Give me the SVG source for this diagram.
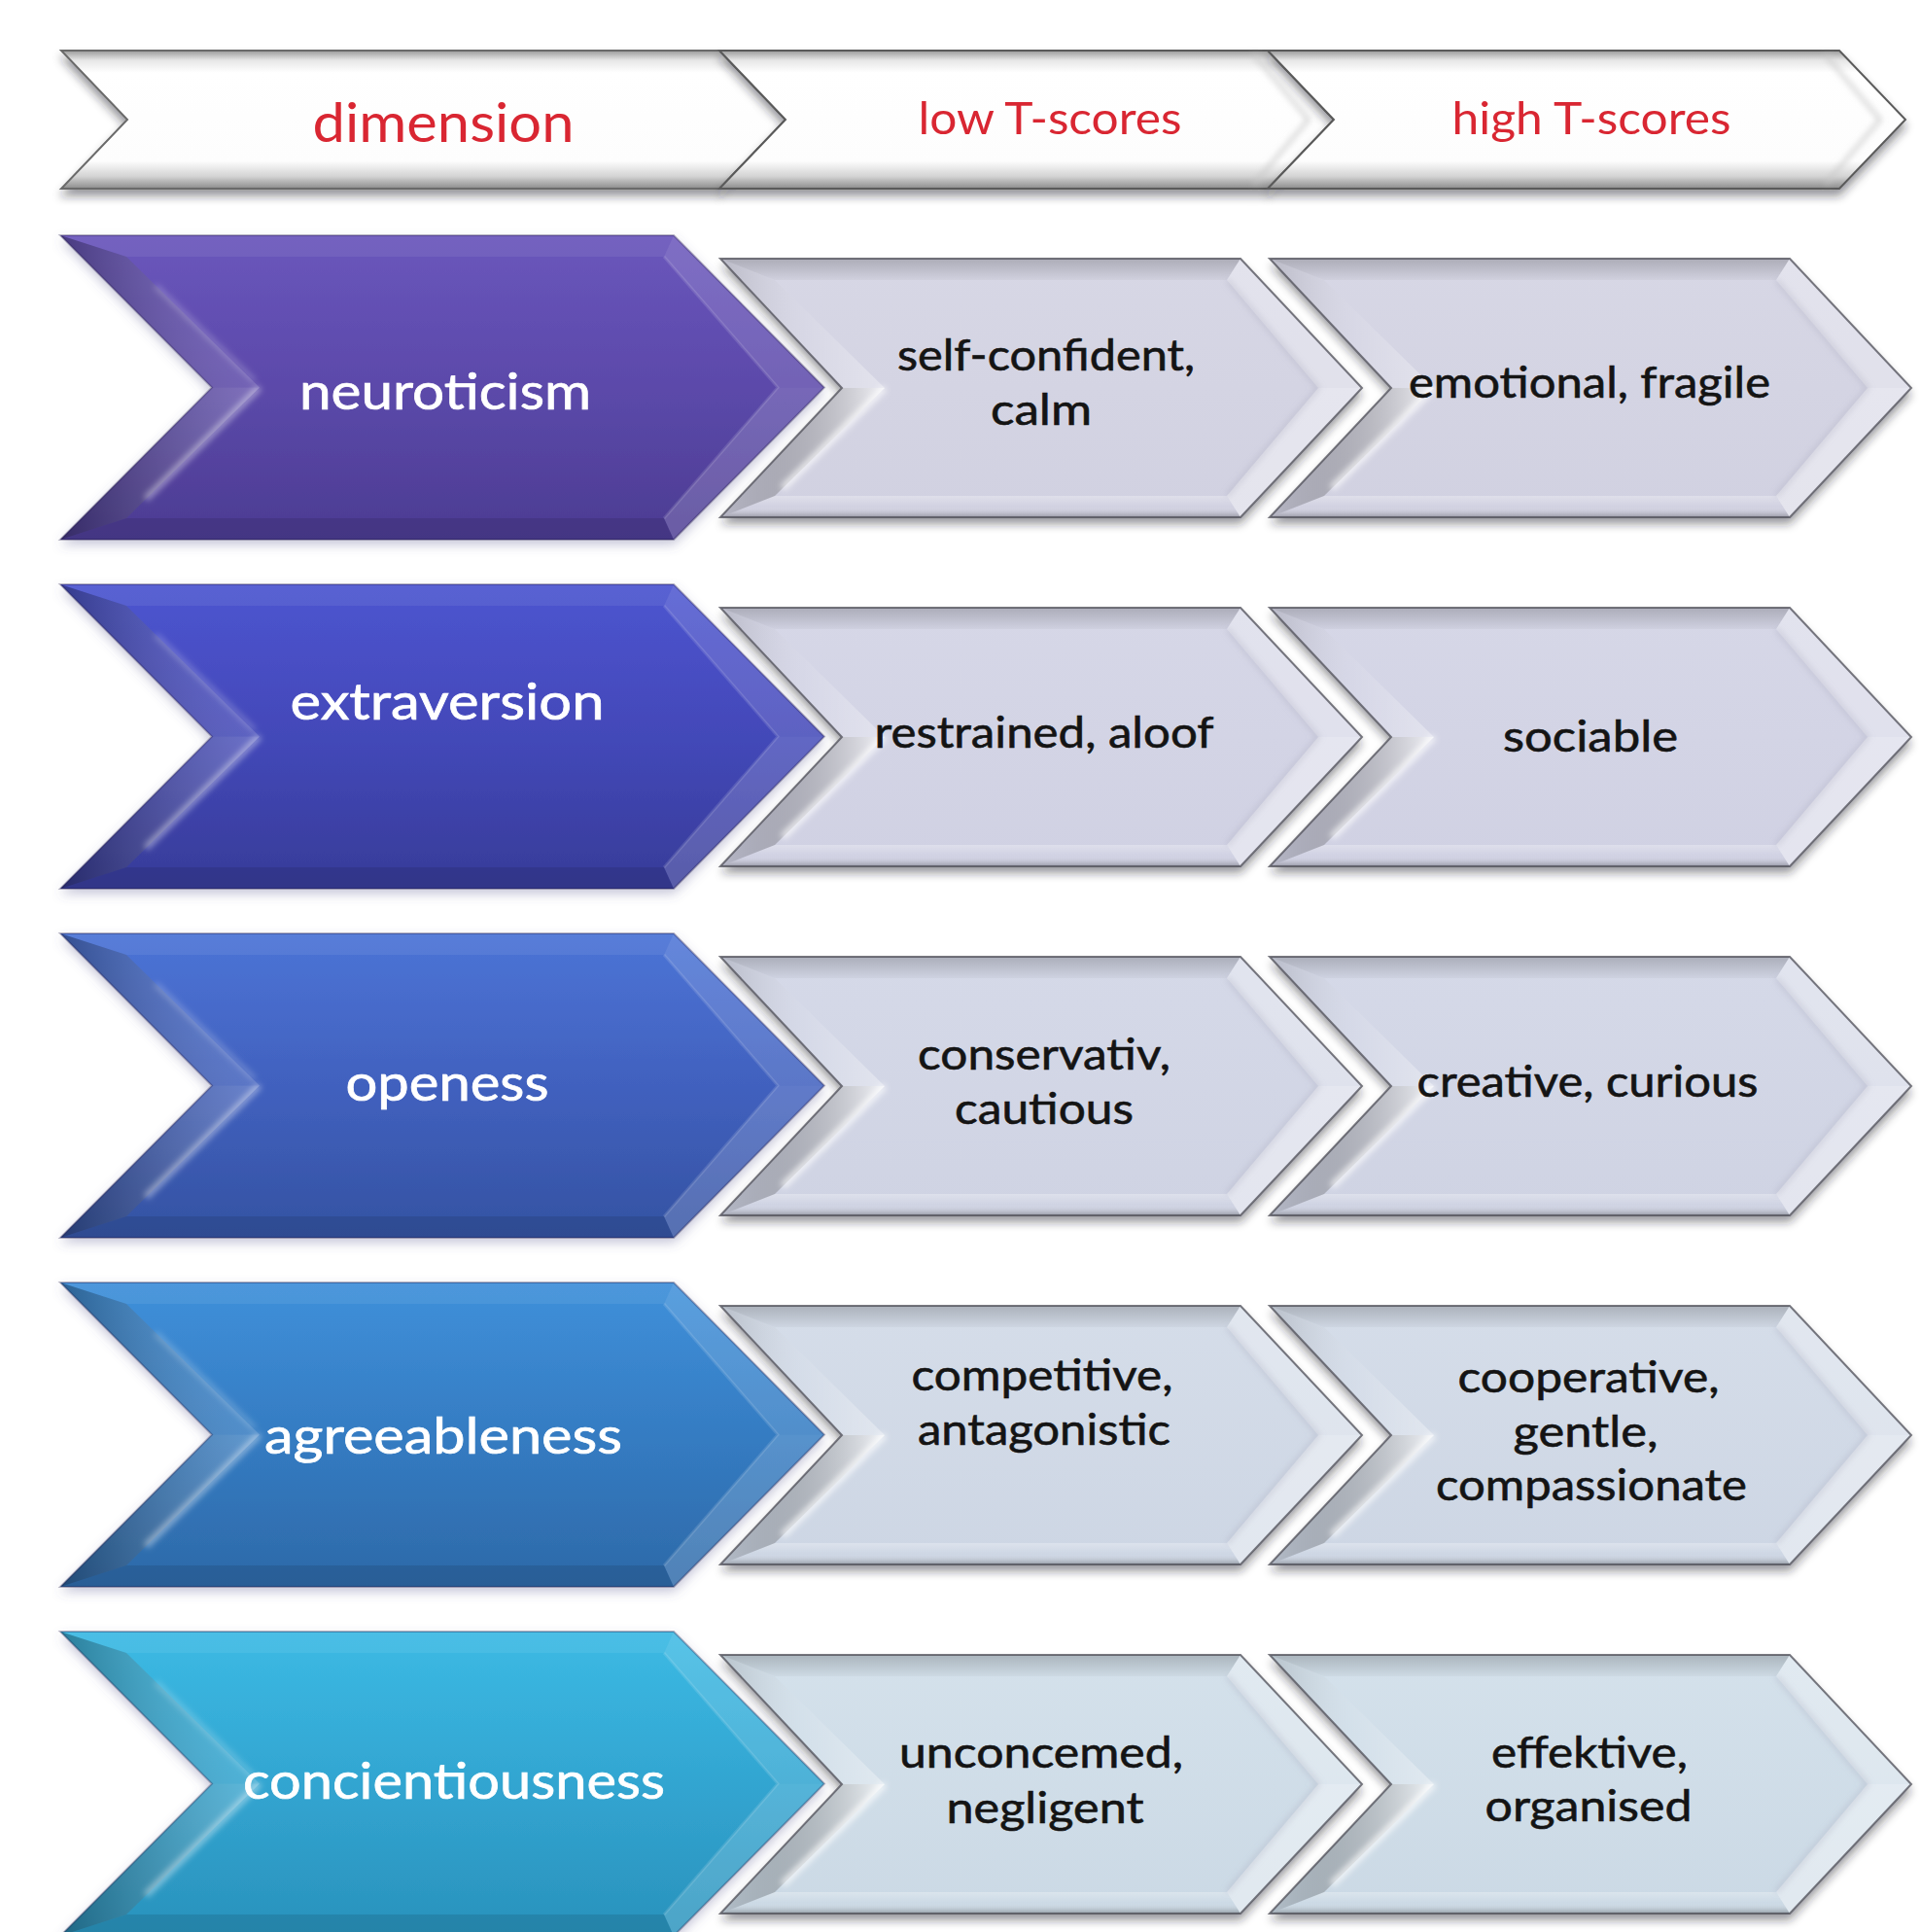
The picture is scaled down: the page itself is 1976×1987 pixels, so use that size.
<svg xmlns="http://www.w3.org/2000/svg" xmlns:xlink="http://www.w3.org/1999/xlink" width="1976" height="1987" viewBox="0 0 1976 1987">
  <style>
    .hd { font-family: Lato, "Liberation Sans", sans-serif; fill: #d92832; text-anchor: middle; }
    .dim { font-family: Lato, "Liberation Sans", sans-serif; font-size: 52px; fill: #ffffff; stroke: #ffffff; stroke-width: 0.7px; text-anchor: middle; }
    .val { font-family: Lato, "Liberation Sans", sans-serif; font-size: 44px; fill: #141414; stroke: #141414; stroke-width: 0.6px; text-anchor: middle; }
  </style>
  <defs>
    <!-- drop shadows -->
    <filter id="gshadow" x="-5%" y="-10%" width="110%" height="135%">
      <feGaussianBlur in="SourceAlpha" stdDeviation="5"/>
      <feOffset dy="7" result="b"/>
      <feFlood flood-color="#202028" flood-opacity="0.45"/>
      <feComposite in2="b" operator="in"/>
      <feMerge><feMergeNode/><feMergeNode in="SourceGraphic"/></feMerge>
    </filter>
    <filter id="cshadow" x="-5%" y="-10%" width="110%" height="130%">
      <feGaussianBlur in="SourceAlpha" stdDeviation="6"/>
      <feOffset dy="5" result="b"/>
      <feFlood flood-color="#5a5a90" flood-opacity="0.35"/>
      <feComposite in2="b" operator="in"/>
      <feMerge><feMergeNode/><feMergeNode in="SourceGraphic"/></feMerge>
    </filter>
    <filter id="soft" x="-20%" y="-20%" width="140%" height="140%">
      <feGaussianBlur stdDeviation="3"/>
    </filter>

    <!-- coloured dimension faces -->
    <linearGradient id="face1" x1="0" y1="0" x2="0" y2="1">
      <stop offset="0" stop-color="#6a56bc"/><stop offset="0.55" stop-color="#5a48a8"/><stop offset="1" stop-color="#4c3c92"/>
    </linearGradient>
    <linearGradient id="face2" x1="0" y1="0" x2="0" y2="1">
      <stop offset="0" stop-color="#4d55d0"/><stop offset="0.55" stop-color="#4247b6"/><stop offset="1" stop-color="#373c98"/>
    </linearGradient>
    <linearGradient id="face3" x1="0" y1="0" x2="0" y2="1">
      <stop offset="0" stop-color="#4c74d6"/><stop offset="0.55" stop-color="#405fbc"/><stop offset="1" stop-color="#3453a2"/>
    </linearGradient>
    <linearGradient id="face4" x1="0" y1="0" x2="0" y2="1">
      <stop offset="0" stop-color="#3f90da"/><stop offset="0.55" stop-color="#347ac0"/><stop offset="1" stop-color="#2d69a8"/>
    </linearGradient>
    <linearGradient id="face5" x1="0" y1="0" x2="0" y2="1">
      <stop offset="0" stop-color="#3cbae4"/><stop offset="0.55" stop-color="#31a3cf"/><stop offset="1" stop-color="#2a92bc"/>
    </linearGradient>

    <!-- grey value faces -->
    <linearGradient id="gf1" x1="0" y1="0" x2="0" y2="1"><stop offset="0" stop-color="#d7d7e5"/><stop offset="1" stop-color="#d1d1e1"/></linearGradient>
    <linearGradient id="gf2" x1="0" y1="0" x2="0" y2="1"><stop offset="0" stop-color="#d6d7e7"/><stop offset="1" stop-color="#d0d1e3"/></linearGradient>
    <linearGradient id="gf3" x1="0" y1="0" x2="0" y2="1"><stop offset="0" stop-color="#d5d9e8"/><stop offset="1" stop-color="#cfd3e3"/></linearGradient>
    <linearGradient id="gf4" x1="0" y1="0" x2="0" y2="1"><stop offset="0" stop-color="#d5dde9"/><stop offset="1" stop-color="#cdd6e4"/></linearGradient>
    <linearGradient id="gf5" x1="0" y1="0" x2="0" y2="1"><stop offset="0" stop-color="#d4e1eb"/><stop offset="1" stop-color="#cbd9e5"/></linearGradient>

    <!-- header face -->
    <linearGradient id="hdr" x1="0" y1="0" x2="0" y2="1">
      <stop offset="0" stop-color="#9a9a9a"/><stop offset="0.07" stop-color="#e6e6e6"/><stop offset="0.16" stop-color="#ffffff"/>
      <stop offset="0.8" stop-color="#fdfdfd"/><stop offset="0.91" stop-color="#d4d4d4"/><stop offset="1" stop-color="#8c8c8c"/>
    </linearGradient>

    <!-- bevel shading -->
    <linearGradient id="topShade" x1="0" y1="0" x2="0" y2="1">
      <stop offset="0" stop-color="#000" stop-opacity="0.2"/><stop offset="1" stop-color="#000" stop-opacity="0.03"/>
    </linearGradient>
    <linearGradient id="botShade" x1="0" y1="0" x2="0" y2="1">
      <stop offset="0" stop-color="#fff" stop-opacity="0.3"/><stop offset="0.5" stop-color="#fff" stop-opacity="0"/><stop offset="1" stop-color="#000" stop-opacity="0.28"/>
    </linearGradient>
    <linearGradient id="llShade" x1="0" y1="0" x2="1" y2="0">
      <stop offset="0" stop-color="#000" stop-opacity="0.12"/><stop offset="1" stop-color="#fff" stop-opacity="0.7"/>
    </linearGradient>
    <linearGradient id="ulShade" x1="0" y1="0" x2="1" y2="0">
      <stop offset="0" stop-color="#000" stop-opacity="0.14"/><stop offset="0.5" stop-color="#fff" stop-opacity="0.05"/><stop offset="1" stop-color="#fff" stop-opacity="0.35"/>
    </linearGradient>
    <linearGradient id="cllShade" x1="0" y1="0" x2="1" y2="0">
      <stop offset="0" stop-color="#000" stop-opacity="0.3"/><stop offset="1" stop-color="#fff" stop-opacity="0.22"/>
    </linearGradient>
    <linearGradient id="culShade" x1="0" y1="0" x2="1" y2="0">
      <stop offset="0" stop-color="#000" stop-opacity="0.32"/><stop offset="1" stop-color="#fff" stop-opacity="0.14"/>
    </linearGradient>

    <!-- coloured chevron outline and bevel facets (row-local coordinates) -->
    <polygon id="cShape" points="62,0 693,0 848,156.5 693,313 62,313 218,156.5"/>
    <g id="cFacets">
      <polygon points="62,0 693,0 683,22 130,22" fill="#fff" fill-opacity="0.07"/>
      <polygon points="693,0 848,156.5 800,156.5 683,22" fill="#fff" fill-opacity="0.14"/>
      <polygon points="848,156.5 693,313 683,291 800,156.5" fill="#fff" fill-opacity="0.17"/>
      <polygon points="693,313 62,313 130,291 683,291" fill="#000" fill-opacity="0.1"/>
      <polygon points="62,313 218,156.5 267,156.5 130,291" fill="url(#cllShade)"/>
      <polygon points="218,156.5 62,0 130,22 267,156.5" fill="url(#culShade)"/>
      <polyline points="267,156.5 150,271" fill="none" stroke="#fff" stroke-opacity="0.45" stroke-width="6" filter="url(#soft)"/>
      <polyline points="262,150 160,52" fill="none" stroke="#fff" stroke-opacity="0.25" stroke-width="5" filter="url(#soft)"/>
      <polyline points="683,22 800,156.5 683,291" fill="none" stroke="#fff" stroke-opacity="0.12" stroke-width="3"/>
      <polygon points="62,0 693,0 848,156.5 693,313 62,313 218,156.5" fill="none" stroke="#1a1040" stroke-opacity="0.3" stroke-width="2"/>
    </g>

    <!-- grey chevron outline and bevel facets (node-local coordinates) -->
    <polygon id="gShape" points="741,0 1276,0 1401,133 1276,266 741,266 866,133"/>
    <g id="gFacets">
      <polygon points="741,0 1276,0 1262,22 797,22" fill="url(#topShade)"/>
      <polygon points="1276,0 1401,133 1356,133 1262,22" fill="#fff" fill-opacity="0.3"/>
      <polygon points="1401,133 1276,266 1262,244 1356,133" fill="#fff" fill-opacity="0.42"/>
      <polygon points="1276,266 741,266 797,244 1262,244" fill="url(#botShade)"/>
      <polygon points="741,266 866,133 910,133 797,244" fill="url(#llShade)"/>
      <polygon points="866,133 741,0 797,22 910,133" fill="url(#ulShade)"/>
      <polyline points="910,133 805,236" fill="none" stroke="#fff" stroke-opacity="0.8" stroke-width="6" filter="url(#soft)"/>
      <polyline points="1262,22 1356,133 1262,244" fill="none" stroke="#9a9aae" stroke-opacity="0.35" stroke-width="4" filter="url(#soft)"/>
      <polygon points="741,0 1276,0 1401,133 1276,266 741,266 866,133" fill="none" stroke="#4c4c56" stroke-opacity="0.75" stroke-width="2"/>
    </g>

    <!-- header bevel lines -->
    <g id="hInner">
      <polyline points="-56,0 0,66 -56,132" fill="none" stroke="#c8c8c8" stroke-width="3" filter="url(#soft)"/>
    </g>
  </defs>

  <rect width="1976" height="1987" fill="#ffffff"/>

  <!-- header row -->
  <g id="hdr-dimension" filter="url(#gshadow)">
    <polygon points="63,52 740,52 808,123 740,194 63,194 131,123" fill="url(#hdr)" stroke="#6a6a6a" stroke-width="2"/>
    <text class="hd" x="456" y="146" font-size="56" textLength="269" lengthAdjust="spacingAndGlyphs">dimension</text>
  </g>
  <g id="hdr-low" filter="url(#gshadow)">
    <polygon points="740,52 1304,52 1372,123 1304,194 740,194 808,123" fill="url(#hdr)" stroke="#5a5a5a" stroke-width="2"/>
    <use href="#hInner" transform="translate(1346,57)"/>
    <text class="hd" x="1080" y="138" font-size="46" textLength="271" lengthAdjust="spacingAndGlyphs">low T-scores</text>
  </g>
  <g id="hdr-high" filter="url(#gshadow)">
    <polygon points="1304,52 1892,52 1960,123 1892,194 1304,194 1372,123" fill="url(#hdr)" stroke="#5a5a5a" stroke-width="2"/>
    <use href="#hInner" transform="translate(1934,57)"/>
    <text class="hd" x="1637" y="138" font-size="46" textLength="287" lengthAdjust="spacingAndGlyphs">high T-scores</text>
  </g>

  <!-- neuroticism -->
  <g id="dim-neuroticism" transform="translate(0,242)">
    <use href="#cShape" fill="url(#face1)" filter="url(#cshadow)"/>
    <use href="#cFacets"/>
    <text class="dim" x="458" y="179" textLength="300" lengthAdjust="spacingAndGlyphs">neuroticism</text>
  </g>
  <g id="low-neuroticism" transform="translate(0,266)">
    <use href="#gShape" fill="url(#gf1)" filter="url(#gshadow)"/>
    <use href="#gFacets"/>
    <text class="val" x="1076" y="115" textLength="306" lengthAdjust="spacingAndGlyphs">self-confident,</text>
    <text class="val" x="1071" y="171" textLength="104" lengthAdjust="spacingAndGlyphs">calm</text>
  </g>
  <g id="high-neuroticism" transform="translate(565,266)">
    <use href="#gShape" fill="url(#gf1)" filter="url(#gshadow)"/>
    <use href="#gFacets"/>
    <text class="val" x="1070" y="143" textLength="372" lengthAdjust="spacingAndGlyphs">emotional, fragile</text>
  </g>

  <!-- extraversion -->
  <g id="dim-extraversion" transform="translate(0,601)">
    <use href="#cShape" fill="url(#face2)" filter="url(#cshadow)"/>
    <use href="#cFacets"/>
    <text class="dim" x="460" y="139" textLength="323" lengthAdjust="spacingAndGlyphs">extraversion</text>
  </g>
  <g id="low-extraversion" transform="translate(0,625)">
    <use href="#gShape" fill="url(#gf2)" filter="url(#gshadow)"/>
    <use href="#gFacets"/>
    <text class="val" x="1074" y="144" textLength="349" lengthAdjust="spacingAndGlyphs">restrained, aloof</text>
  </g>
  <g id="high-extraversion" transform="translate(565,625)">
    <use href="#gShape" fill="url(#gf2)" filter="url(#gshadow)"/>
    <use href="#gFacets"/>
    <text class="val" x="1071" y="148" textLength="180" lengthAdjust="spacingAndGlyphs">sociable</text>
  </g>

  <!-- openess -->
  <g id="dim-openess" transform="translate(0,960)">
    <use href="#cShape" fill="url(#face3)" filter="url(#cshadow)"/>
    <use href="#cFacets"/>
    <text class="dim" x="460" y="172" textLength="209" lengthAdjust="spacingAndGlyphs">openess</text>
  </g>
  <g id="low-openess" transform="translate(0,984)">
    <use href="#gShape" fill="url(#gf3)" filter="url(#gshadow)"/>
    <use href="#gFacets"/>
    <text class="val" x="1074" y="116" textLength="260" lengthAdjust="spacingAndGlyphs">conservativ,</text>
    <text class="val" x="1074" y="172" textLength="184" lengthAdjust="spacingAndGlyphs">cautious</text>
  </g>
  <g id="high-openess" transform="translate(565,984)">
    <use href="#gShape" fill="url(#gf3)" filter="url(#gshadow)"/>
    <use href="#gFacets"/>
    <text class="val" x="1068" y="144" textLength="351" lengthAdjust="spacingAndGlyphs">creative, curious</text>
  </g>

  <!-- agreeableness -->
  <g id="dim-agreeableness" transform="translate(0,1319)">
    <use href="#cShape" fill="url(#face4)" filter="url(#cshadow)"/>
    <use href="#cFacets"/>
    <text class="dim" x="456" y="176" textLength="368" lengthAdjust="spacingAndGlyphs">agreeableness</text>
  </g>
  <g id="low-agreeableness" transform="translate(0,1343)">
    <use href="#gShape" fill="url(#gf4)" filter="url(#gshadow)"/>
    <use href="#gFacets"/>
    <text class="val" x="1072" y="87" textLength="269" lengthAdjust="spacingAndGlyphs">competitive,</text>
    <text class="val" x="1074" y="143" textLength="260" lengthAdjust="spacingAndGlyphs">antagonistic</text>
  </g>
  <g id="high-agreeableness" transform="translate(565,1343)">
    <use href="#gShape" fill="url(#gf4)" filter="url(#gshadow)"/>
    <use href="#gFacets"/>
    <text class="val" x="1069" y="89" textLength="269" lengthAdjust="spacingAndGlyphs">cooperative,</text>
    <text class="val" x="1066" y="145" textLength="149" lengthAdjust="spacingAndGlyphs">gentle,</text>
    <text class="val" x="1072" y="200" textLength="320" lengthAdjust="spacingAndGlyphs">compassionate</text>
  </g>

  <!-- concientiousness -->
  <g id="dim-concientiousness" transform="translate(0,1678)">
    <use href="#cShape" fill="url(#face5)" filter="url(#cshadow)"/>
    <use href="#cFacets"/>
    <text class="dim" x="467" y="172" textLength="434" lengthAdjust="spacingAndGlyphs">concientiousness</text>
  </g>
  <g id="low-concientiousness" transform="translate(0,1702)">
    <use href="#gShape" fill="url(#gf5)" filter="url(#gshadow)"/>
    <use href="#gFacets"/>
    <text class="val" x="1071" y="116" textLength="292" lengthAdjust="spacingAndGlyphs">unconcemed,</text>
    <text class="val" x="1075" y="173" textLength="203" lengthAdjust="spacingAndGlyphs">negligent</text>
  </g>
  <g id="high-concientiousness" transform="translate(565,1702)">
    <use href="#gShape" fill="url(#gf5)" filter="url(#gshadow)"/>
    <use href="#gFacets"/>
    <text class="val" x="1070" y="116" textLength="202" lengthAdjust="spacingAndGlyphs">effektive,</text>
    <text class="val" x="1069" y="171" textLength="213" lengthAdjust="spacingAndGlyphs">organised</text>
  </g>
</svg>
